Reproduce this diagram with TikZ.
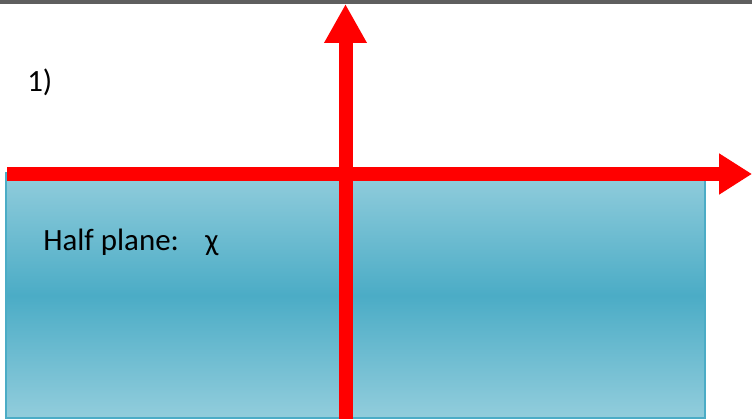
\documentclass[tikz,border=0pt]{standalone}
\usepackage{fontspec}
\setmainfont{Carlito}
\usetikzlibrary{arrows.meta}
\definecolor{aqualight}{RGB}{146,205,220}
\definecolor{aquadark}{RGB}{75,172,198}
\definecolor{topbar}{RGB}{95,95,95}
\tikzset{
    axisline/.style={draw=red,line width=14*0.025cm},
    labeltext/.style={inner sep=0pt,font=\fontsize{22}{26}\selectfont}
}
\begin{document}
\begin{tikzpicture}[x=0.025cm,y=0.025cm]
    \useasboundingbox (0,0) rectangle (752,419);
    \fill[topbar] (0,415) rectangle (752,419);
    % half plane
    \draw[aquadark,line width=2*0.025cm,top color=aqualight,bottom color=aqualight,middle color=aquadark]
        (6,1) rectangle (705,246);
    % axes
    \coordinate (xstart) at (7,245);
    \coordinate (xend) at (752,245);
    \coordinate (ystart) at (345.5,0);
    \coordinate (yend) at (345.5,415);
    \draw[axisline,-{Triangle[length=33*0.025cm,width=39*0.025cm]}] (xstart) -- (xend);
    \draw[axisline,-{Triangle[length=39*0.025cm,width=40*0.025cm]}] (ystart) -- (yend);
    % labels
    \node[labeltext,anchor=base west] (num) at (27,327) {1)};
    \node[labeltext,anchor=base west] (half) at (43,168) {Half plane:\hspace{0.85em}χ};
\end{tikzpicture}
\end{document}
